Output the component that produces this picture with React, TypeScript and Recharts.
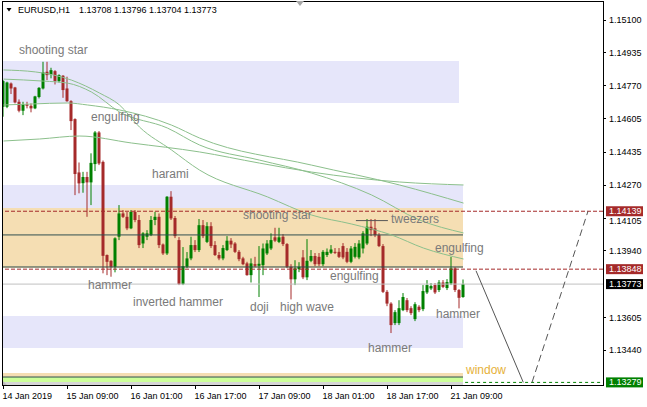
import React from "react";
import {
  ComposedChart,
  Bar,
  Line,
  XAxis,
  YAxis,
  ReferenceArea,
  ReferenceLine,
  ReferenceDot,
} from "recharts";

// EURUSD H1, 14 Jan 17:00 .. 21 Jan 12:00
const opens = [
  1.14664, 1.14664, 1.14781, 1.14761, 1.14689, 1.14644, 1.14676, 1.14669, 1.14656, 1.14713,
  1.14756, 1.1484, 1.14827, 1.14843, 1.14793, 1.1482, 1.14756, 1.14692, 1.14602, 1.14334,
  1.1428, 1.14311, 1.14284, 1.14376, 1.14535, 1.14387, 1.13919, 1.1389, 1.1386, 1.14011,
  1.14128, 1.14111, 1.14053, 1.14136, 1.14095, 1.13977, 1.14011, 1.14019, 1.14095, 1.14111,
  1.13972, 1.13927, 1.14212, 1.14105, 1.13994, 1.13773, 1.1386, 1.13902, 1.13969, 1.13944,
  1.14069, 1.13985, 1.14064, 1.13969, 1.13919, 1.13902, 1.13944, 1.13991, 1.13977, 1.13935,
  1.13902, 1.13877, 1.13818, 1.13873, 1.13865, 1.13868, 1.13927, 1.13952, 1.14008, 1.13985,
  1.14011, 1.13974, 1.1386, 1.13797, 1.13848, 1.13907, 1.13807, 1.1389, 1.13914, 1.1391,
  1.13873, 1.13919, 1.1393, 1.13935, 1.13935, 1.13964, 1.13935, 1.13885, 1.1391, 1.13907,
  1.13952, 1.13977, 1.14061, 1.14053, 1.14019, 1.13964, 1.13734, 1.13675, 1.13577, 1.13577,
  1.13642, 1.13692, 1.13652, 1.13597, 1.13659, 1.13647, 1.13731, 1.13751, 1.13768, 1.13743,
  1.13781, 1.13753, 1.13776, 1.13852, 1.13743, 1.13708,
];
const highs = [
  1.14798, 1.1479, 1.14786, 1.14764, 1.14701, 1.14689, 1.14689, 1.14681, 1.14719, 1.14763,
  1.1489, 1.1489, 1.1486, 1.14848, 1.14827, 1.14823, 1.14815, 1.14697, 1.14606, 1.14384,
  1.14337, 1.14337, 1.1443, 1.14542, 1.14542, 1.14394, 1.13922, 1.13893, 1.14008, 1.1417,
  1.14145, 1.14135, 1.14145, 1.14145, 1.1412, 1.14034, 1.14044, 1.14115, 1.14136, 1.14128,
  1.13977, 1.14215, 1.1424, 1.14115, 1.14009, 1.13959, 1.13934, 1.14011, 1.13994, 1.141,
  1.14095, 1.14084, 1.14084, 1.13989, 1.13934, 1.13969, 1.14014, 1.14004, 1.13984, 1.13944,
  1.1391, 1.13885, 1.13902, 1.1391, 1.13964, 1.13977, 1.13994, 1.14028, 1.14056, 1.14056,
  1.14024, 1.13979, 1.13873, 1.13893, 1.13883, 1.13944, 1.13999, 1.13944, 1.13929, 1.13929,
  1.13944, 1.13952, 1.13969, 1.13954, 1.13954, 1.13979, 1.13954, 1.13964, 1.13979, 1.13994,
  1.14039, 1.141, 1.141, 1.141, 1.14029, 1.13974, 1.13743, 1.13682, 1.13642, 1.13692,
  1.13728, 1.13703, 1.13662, 1.13682, 1.13667, 1.13768, 1.13793, 1.13778, 1.13778, 1.13793,
  1.13793, 1.13798, 1.1391, 1.13858, 1.13748, 1.13796,
];
const lows = [
  1.14614, 1.14657, 1.14728, 1.14681, 1.14636, 1.14622, 1.14656, 1.14636, 1.14652, 1.14706,
  1.14751, 1.14798, 1.14807, 1.14776, 1.14786, 1.14709, 1.14689, 1.14547, 1.1422, 1.14229,
  1.14232, 1.14111, 1.1417, 1.14341, 1.14371, 1.13827, 1.13818, 1.1381, 1.13832, 1.13994,
  1.14105, 1.14044, 1.14049, 1.14084, 1.13954, 1.13954, 1.13994, 1.14014, 1.14069, 1.13954,
  1.13919, 1.13919, 1.14095, 1.14004, 1.13768, 1.13768, 1.13853, 1.13893, 1.13934, 1.13934,
  1.14004, 1.13979, 1.13954, 1.13914, 1.13893, 1.13893, 1.13939, 1.13954, 1.13929, 1.13888,
  1.13868, 1.13815, 1.13781, 1.13858, 1.13708, 1.13818, 1.13919, 1.13944, 1.13984, 1.13979,
  1.13964, 1.13853, 1.13696, 1.13768, 1.13833, 1.13798, 1.13793, 1.13883, 1.13863, 1.13863,
  1.13863, 1.13909, 1.13924, 1.13924, 1.13904, 1.13898, 1.13878, 1.13878, 1.13902, 1.13898,
  1.13927, 1.13969, 1.14014, 1.14009, 1.13959, 1.13728, 1.13662, 1.13527, 1.13567, 1.13567,
  1.13637, 1.13632, 1.13617, 1.13587, 1.13632, 1.13637, 1.13723, 1.13743, 1.13723, 1.13733,
  1.13753, 1.13743, 1.13768, 1.13733, 1.13651, 1.13704,
];
const closes = [
  1.14793, 1.14786, 1.14756, 1.14686, 1.14644, 1.14676, 1.14669, 1.14656, 1.14716, 1.14759,
  1.14837, 1.14823, 1.14848, 1.14793, 1.14823, 1.14748, 1.14692, 1.14592, 1.14326, 1.14279,
  1.14311, 1.14284, 1.14382, 1.14535, 1.14379, 1.13915, 1.13885, 1.1386, 1.14003, 1.14128,
  1.14111, 1.14053, 1.14136, 1.14095, 1.13969, 1.14028, 1.14028, 1.14095, 1.14111, 1.13969,
  1.13927, 1.14212, 1.14103, 1.14014, 1.13773, 1.13863, 1.13902, 1.13969, 1.13944, 1.14069,
  1.14014, 1.14064, 1.13964, 1.13919, 1.13902, 1.13954, 1.13991, 1.13972, 1.13935, 1.13898,
  1.13873, 1.13818, 1.13877, 1.13865, 1.13875, 1.13952, 1.13977, 1.13994, 1.13991, 1.14008,
  1.13974, 1.1386, 1.13797, 1.13852, 1.1386, 1.13807, 1.1389, 1.13914, 1.13873, 1.13873,
  1.13935, 1.13935, 1.13947, 1.1393, 1.1391, 1.13907, 1.13885, 1.13952, 1.1396, 1.13977,
  1.14028, 1.14061, 1.14044, 1.14019, 1.13964, 1.13734, 1.13675, 1.13567, 1.13632, 1.13652,
  1.13708, 1.13642, 1.13627, 1.13672, 1.13642, 1.13738, 1.13768, 1.13763, 1.13731, 1.13781,
  1.13759, 1.13783, 1.13852, 1.13743, 1.13704, 1.13773,
];

const tickIdx = [0, 16, 32, 48, 64, 80, 96, 112];
const tickLabels = [
  "14 Jan 2019", "15 Jan 09:00", "16 Jan 01:00", "16 Jan 17:00",
  "17 Jan 09:00", "18 Jan 01:00", "18 Jan 17:00", "21 Jan 09:00",
];
const priceTicks = [1.151, 1.14935, 1.1477, 1.14605, 1.14435, 1.1427, 1.14105, 1.1394, 1.13605, 1.1344];
// price levels that carry a coloured tag on the scale
const tagLevels = [1.14139, 1.13848, 1.13773, 1.13279];

// moving averages, read at a few bars
const maFast = [[0, 1.14849], [8, 1.14839], [17, 1.14798], [24, 1.14733], [29, 1.14673], [34, 1.14562], [42, 1.14447], [49, 1.14346], [66, 1.14211], [77, 1.1412], [87, 1.14075], [97, 1.1402], [105, 1.13954], [115, 1.13899]];
const maMid = [[0, 1.14803], [10, 1.14793], [16, 1.14783], [22, 1.14738], [29, 1.14638], [41, 1.14557], [49, 1.14472], [64, 1.14396], [77, 1.14331], [92, 1.14221], [104, 1.14095], [115, 1.1403]];
const maSlow = [[0, 1.14673], [7, 1.14678], [16, 1.14683], [21, 1.14673], [29, 1.14648], [42, 1.14572], [49, 1.14507], [77, 1.14371], [99, 1.14271], [115, 1.1418]];
const maLong = [[0, 1.14492], [9, 1.14502], [19, 1.14517], [32, 1.14482], [49, 1.14437], [64, 1.14381], [77, 1.14336], [99, 1.14286], [115, 1.14271]];

const projDown = [[118.125, 1.1384], [129.95, 1.13279]];
const projUp = [[132.125, 1.13279], [146.125, 1.14139]];

const notes = [
  { text: "shooting star", i: 3.875, p: 1.14949 },
  { text: "engulfing", i: 21.875, p: 1.14613 },
  { text: "harami", i: 37.125, p: 1.14326 },
  { text: "hammer", i: 21.125, p: 1.13768 },
  { text: "inverted hammer", i: 32.375, p: 1.13683 },
  { text: "doji", i: 61.625, p: 1.13658 },
  { text: "high wave", i: 69.125, p: 1.13658 },
  { text: "shooting star", i: 59.875, p: 1.1412 },
  { text: "tweezers", i: 96.875, p: 1.141 },
  { text: "engulfing", i: 81.625, p: 1.13814 },
  { text: "engulfing", i: 107.875, p: 1.13954 },
  { text: "hammer", i: 108.125, p: 1.13623 },
  { text: "hammer", i: 91.125, p: 1.13452 },
];

const bars = opens.map((o, i) => ({
  i,
  open: o,
  high: highs[i],
  low: lows[i],
  close: closes[i],
  range: [lows[i], highs[i]],
}));
const toPts = (arr: number[][]) => arr.map(([i, v]) => ({ i, v }));

const FONT = '"Liberation Sans", Arial, sans-serif';
const LAVENDER = "#e6e6fa";
const WHEAT = "#f5deb3";
const BEAR = "#a52a2a";
const BULL = "#008000";
const MA = "#8cc08c";
const END = 114.875;

function Candle(props: any) {
  const { x, y, width, height, payload } = props;
  if (x == null || !payload) return null;
  const top = Math.min(y, y + height);
  const h = Math.abs(height);
  const span = payload.high - payload.low;
  const k = span > 0 ? h / span : 0;
  const cx = x + width / 2;
  const yo = top + (payload.high - payload.open) * k;
  const yc = top + (payload.high - payload.close) * k;
  const color = payload.close >= payload.open ? BULL : BEAR;
  return (
    <g>
      <line x1={cx} x2={cx} y1={top} y2={top + h} stroke={color} strokeWidth={1} />
      <rect x={cx - 1.5} y={Math.min(yo, yc)} width={3} height={Math.max(1, Math.abs(yc - yo))} fill={color} />
    </g>
  );
}

function XTick(props: any) {
  const { x, y, payload } = props;
  const label = tickLabels[tickIdx.indexOf(payload.value)];
  return (
    <g>
      <line x1={x} x2={x} y1={y} y2={y + 4} stroke="#000" />
      <text x={x - 1} y={y + 11} dominantBaseline="central" fontSize={9} fontFamily={FONT} fill="#000">
        {label}
      </text>
    </g>
  );
}

function YTick(props: any) {
  const { x, y, payload } = props;
  const yy = Math.floor(y) + 0.5;
  // a label sitting just under a price tag is nudged down so it peeks out below it
  const near = tagLevels.some((t) => t > payload.value && t - payload.value < 0.0005);
  return (
    <g>
      <line x1={x} x2={x + 3} y1={yy} y2={yy} stroke="#000" />
      <text x={x + 6} y={y + (near ? 3 : 0)} dominantBaseline="central" fontSize={9} fontFamily={FONT} fill="#000">
        {payload.value.toFixed(5)}
      </text>
    </g>
  );
}

const tag = (bg: string, text: string) => (props: any) => {
  const vb = props.viewBox || {};
  const right = (vb.x || 0) + (vb.width || 0);
  const cy = vb.y || 0;
  return (
    <g>
      <rect x={right + 3} y={cy - 5} width={37} height={10} fill={bg} />
      <text x={right + 6} y={cy} dominantBaseline="central" fontSize={9} fontFamily={FONT} fill="#fff">
        {text}
      </text>
    </g>
  );
};

export default function App() {
  return (
    <div style={{ position: "absolute", left: 0, top: 0, width: 647, height: 407, background: "#fff" }}>
      <ComposedChart width={647} height={407} data={bars} margin={{ top: 1, right: 0, bottom: 0, left: 3 }}>
        <XAxis
          dataKey="i"
          type="number"
          domain={[-0.125, 149.875]}
          ticks={tickIdx}
          interval={0}
          allowDataOverflow
          height={22}
          axisLine={false}
          tickLine={false}
          tickSize={0}
          tickMargin={0}
          tick={XTick}
        />
        <YAxis
          orientation="right"
          type="number"
          domain={[1.132659, 1.151955]}
          allowDataOverflow
          ticks={priceTicks}
          interval={0}
          width={44}
          axisLine={false}
          tickLine={false}
          tickSize={0}
          tickMargin={0}
          tick={YTick}
        />

        <ReferenceArea x1={-0.125} x2={113.875} y1={1.14683} y2={1.14894} fill={LAVENDER} fillOpacity={1} />
        <ReferenceArea x1={-0.125} x2={END} y1={1.14155} y2={1.14271} fill={LAVENDER} fillOpacity={1} />
        <ReferenceArea x1={-0.125} x2={END} y1={1.13854} y2={1.14155} fill={WHEAT} fillOpacity={1} />
        <ReferenceArea x1={-0.125} x2={END} y1={1.13452} y2={1.13613} fill={LAVENDER} fillOpacity={1} />
        <ReferenceArea x1={-0.125} x2={END} y1={1.13306} y2={1.13326} fill={WHEAT} fillOpacity={1} />
        <ReferenceArea x1={-0.125} x2={END} y1={1.13281} y2={1.13306} fill="#ccff99" fillOpacity={1} />
        <ReferenceArea x1={-0.125} x2={END} y1={1.132659} y2={1.13281} fill="#d6d6d6" fillOpacity={1} />
        <ReferenceLine segment={[{ x: -0.125, y: 1.13306 }, { x: END, y: 1.13306 }]} stroke="#2f4f4f" />
        <ReferenceLine segment={[{ x: -0.125, y: 1.1402 }, { x: END, y: 1.1402 }]} stroke="#2f4f4f" />
        <ReferenceLine segment={[{ x: -0.125, y: 1.13859 }, { x: END, y: 1.13859 }]} stroke="#2f4f4f" />

        <Line data={toPts(maLong)} dataKey="v" type="monotone" stroke={MA} strokeWidth={1} dot={false} activeDot={false} isAnimationActive={false} />
        <Line data={toPts(maSlow)} dataKey="v" type="monotone" stroke={MA} strokeWidth={1} dot={false} activeDot={false} isAnimationActive={false} />
        <Line data={toPts(maMid)} dataKey="v" type="monotone" stroke={MA} strokeWidth={1} dot={false} activeDot={false} isAnimationActive={false} />
        <Line data={toPts(maFast)} dataKey="v" type="monotone" stroke={MA} strokeWidth={1} dot={false} activeDot={false} isAnimationActive={false} />

        <ReferenceLine y={1.13773} stroke="#c0c0c0" label={tag("#000", "1.13773")} />
        <ReferenceLine y={1.14139} stroke={BEAR} strokeDasharray="4 2" label={tag(BEAR, "1.14139")} />
        <ReferenceLine y={1.13848} stroke={BEAR} strokeDasharray="4 2" label={tag(BEAR, "1.13848")} />
        <ReferenceLine
          segment={[{ x: 115.4, y: 1.13279 }, { x: 149.875, y: 1.13279 }]}
          stroke={BULL}
          strokeDasharray="3 3"
          label={tag(BULL, "1.13279")}
        />
        <ReferenceLine segment={[{ x: 88.1, y: 1.14092 }, { x: 96.1, y: 1.14092 }]} stroke="#555" />

        <Bar dataKey="range" barSize={3} shape={Candle} isAnimationActive={false} />

        <Line data={toPts(projDown)} dataKey="v" type="linear" stroke="#555" strokeWidth={1} dot={false} activeDot={false} isAnimationActive={false} />
        <Line data={toPts(projUp)} dataKey="v" type="linear" stroke="#555" strokeWidth={1} strokeDasharray="7 4" dot={false} activeDot={false} isAnimationActive={false} />

        {notes.map((n, k) => (
          <ReferenceDot
            key={k}
            x={n.i}
            y={n.p}
            r={1}
            ifOverflow="visible"
            shape={(p: any) => (
              <text x={p.cx} y={p.cy} dominantBaseline="central" fontSize={12} fontFamily={FONT} fill="#7a7a7a">
                {n.text}
              </text>
            )}
          />
        ))}
        <ReferenceDot
          x={115.625}
          y={1.13341}
          r={1}
          ifOverflow="visible"
          shape={(p: any) => (
            <text x={p.cx} y={p.cy} dominantBaseline="central" fontSize={12} fontFamily={FONT} fill="#e6b13a">
              window
            </text>
          )}
        />
      </ComposedChart>

      <svg width={647} height={407} style={{ position: "absolute", left: 0, top: 0, pointerEvents: "none" }}>
        <line x1={2.5} x2={2.5} y1={1} y2={386} stroke="#000" />
        <line x1={2} x2={604} y1={1.5} y2={1.5} stroke="#000" />
        <line x1={603.5} x2={603.5} y1={1} y2={386} stroke="#000" />
        <line x1={2} x2={604} y1={385.5} y2={385.5} stroke="#000" />
        <polygon points="296,1 304,1 300,6" fill="#a8a8a8" />
        <polygon points="3,381 3,385 7,385" fill="#bbb" />
        <polygon points="6.5,8 11.5,8 9,11.5" fill="#000" />
        <text x={18} y={9.5} dominantBaseline="central" fontSize={9} fontFamily={FONT} fill="#000">
          EURUSD,H1
        </text>
        <text x={79} y={9.5} dominantBaseline="central" fontSize={9} fontFamily={FONT} fill="#000">
          1.13708 1.13796 1.13704 1.13773
        </text>
      </svg>
    </div>
  );
}
